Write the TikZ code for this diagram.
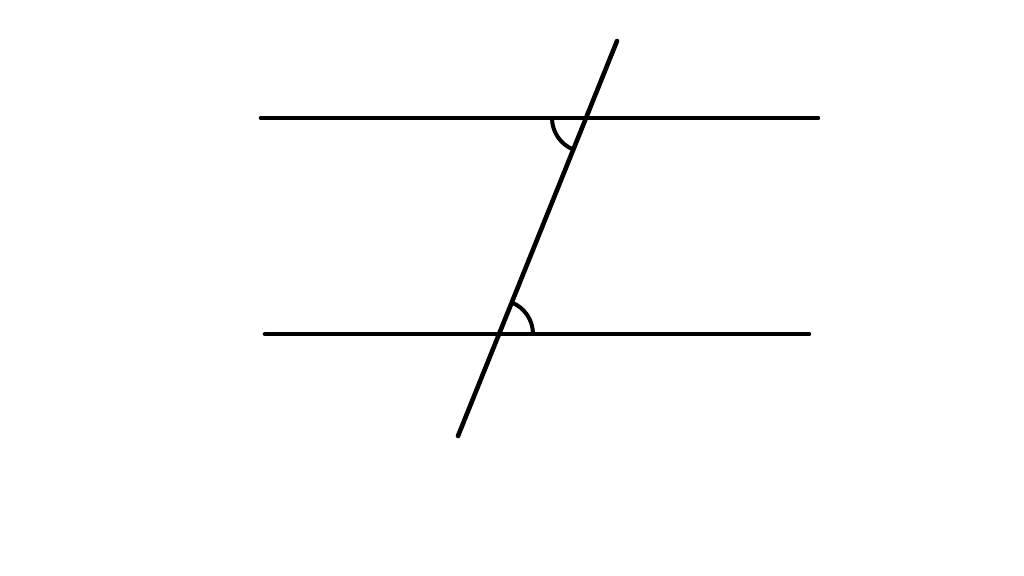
\documentclass[tikz,border=0pt]{standalone}
\usetikzlibrary{calc}
\begin{document}
\begin{tikzpicture}[x=1pt,y=1pt,
  ln/.style={line width=4.6pt,line cap=round,black},
  ang/.style={line width=4pt,black}]
\useasboundingbox (0,0) rectangle (1024,575);
\coordinate (t1) at (261,457);
\coordinate (t2) at (818,457);
\coordinate (b1) at (265,241);
\coordinate (b2) at (809,241);
\coordinate (s1) at (617,534);
\coordinate (s2) at (458,139);
\coordinate (pt) at (586,457);
\coordinate (pb) at (499,241);
\draw[ln] (t1) -- (t2);
\draw[ln] (b1) -- (b2);
\draw[ln] (s1) -- (s2);
\draw[ang] ($(pt)+(-34,0)$) arc[start angle=180,end angle=248,radius=34];
\draw[ang] ($(pb)+(34,0)$) arc[start angle=0,end angle=68,radius=34];
\end{tikzpicture}
\end{document}
